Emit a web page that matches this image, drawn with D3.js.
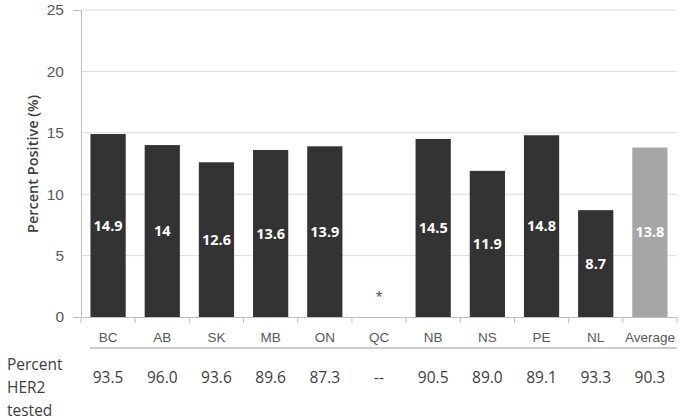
<!DOCTYPE html>
<html><head><meta charset="utf-8">
<script src="https://cdn.jsdelivr.net/npm/d3@7"></script>
<style>body{margin:0;background:#fff;} svg{display:block;font-family:"Open Sans","Noto Sans",sans-serif;}</style>
</head><body>
<svg id="c" width="680" height="420"></svg>
<script>
const categories = ["BC","AB","SK","MB","ON","QC","NB","NS","PE","NL","Average"];
const percentPositive = [14.9,14,12.6,13.6,13.9,null,14.5,11.9,14.8,8.7,13.8];
const percentTested = ["93.5","96.0","93.6","89.6","87.3","--","90.5","89.0","89.1","93.3","90.3"];
const yTicks = [0,5,10,15,20,25];

const svg = d3.select("#c");
const mL = 81, mR = 677, mT = 10, mB = 317;
const x = d3.scaleBand().domain(categories).range([mL, mR]).paddingInner(0.35).paddingOuter(0.175);
const xb = d3.scaleBand().domain(categories).range([mL, mR]);
const y = d3.scaleLinear().domain([0,25]).range([mB, mT]);

// gridlines
svg.append("g").selectAll("line").data(yTicks.filter(d=>d>0)).join("line")
  .attr("x1", mL).attr("x2", mR).attr("y1", d=>y(d)).attr("y2", d=>y(d))
  .attr("stroke", "#dcdcdc").attr("stroke-width", 1);

// y axis
const ya = svg.append("g").attr("transform", `translate(${mL},0)`)
  .call(d3.axisLeft(y).tickValues(yTicks).tickSize(8).tickPadding(9));
ya.select(".domain").attr("stroke", "#bfbfbf");
ya.selectAll(".tick line").attr("stroke", "#bfbfbf");
ya.selectAll(".tick text").attr("fill", "#595959").style("font-size", "15.5px");
ya.selectAll(".tick line").attr("opacity", (d)=> d===0 ? 1 : 0);

// bars
svg.append("g").selectAll("rect").data(categories.map((c,i)=>({c, v: percentPositive[i]})).filter(d=>d.v!=null))
  .join("rect")
  .attr("x", d=>x(d.c)).attr("width", x.bandwidth())
  .attr("y", d=>y(d.v)).attr("height", d=>y(0)-y(d.v))
  .attr("fill", d=> d.c==="Average" ? "#a6a6a6" : "#333333");

// value labels
svg.append("g").selectAll("text").data(categories.map((c,i)=>({c, v: percentPositive[i]})).filter(d=>d.v!=null))
  .join("text")
  .attr("x", d=>x(d.c)+x.bandwidth()/2).attr("y", d=>y(d.v/2))
  .attr("dy","0.35em").attr("text-anchor","middle")
  .attr("fill","#fff").style("font-size","14.5px").style("font-weight","bold")
  .text(d=>d.v);

// QC asterisk
svg.append("text").attr("x", x("QC")+x.bandwidth()/2).attr("y", 301)
  .attr("text-anchor","middle").attr("fill","#404040").style("font-size","13px").text("*");

// x axis
const xa = svg.append("g").attr("transform", `translate(0,${mB})`)
  .call(d3.axisBottom(xb).tickSize(0).tickPadding(15));
xa.select(".domain").attr("stroke", "#bfbfbf");
xa.selectAll(".tick text").attr("fill","#595959").style("font-size","13.5px");
// band boundary ticks
svg.append("g").selectAll("line").data(d3.range(categories.length+1)).join("line")
  .attr("x1", i=>mL + i*xb.step()).attr("x2", i=>mL + i*xb.step())
  .attr("y1", mB).attr("y2", mB+6).attr("stroke","#bfbfbf");

// table line
svg.append("line").attr("x1", 90).attr("x2", mR).attr("y1", 348).attr("y2", 348)
  .attr("stroke","#9a9a9a").attr("stroke-width",1.2);

// percent tested row
svg.append("g").selectAll("text").data(categories.map((c,i)=>({c, t: percentTested[i]})))
  .join("text")
  .attr("x", d=>xb(d.c)+xb.bandwidth()/2).attr("y", 378).attr("dy","0.35em")
  .attr("text-anchor","middle").attr("fill","#404040").style("font-size","15.5px")
  .text(d=>d.t);

// row header
["Percent","HER2","tested"].forEach((t,i)=>{
  svg.append("text").attr("x", 7).attr("y", 365 + i*23).attr("dy","0.35em")
    .attr("fill","#404040").style("font-size","15.5px").text(t);
});

// y title
svg.append("text").attr("transform", "translate(33,164) rotate(-90)")
  .attr("text-anchor","middle").attr("dy","0.35em")
  .attr("fill","#404040").style("font-size","14.5px").style("font-weight","600")
  .text("Percent Positive (%)");
</script>
</body></html>
